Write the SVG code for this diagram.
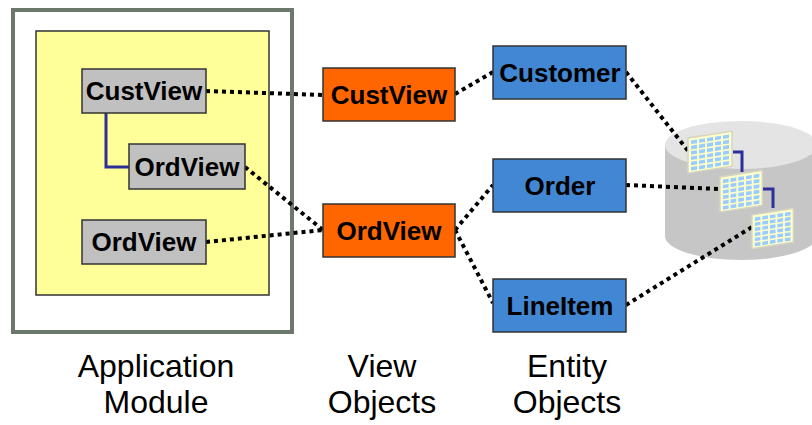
<svg xmlns="http://www.w3.org/2000/svg" width="812" height="425" viewBox="0 0 812 425">
<style>
.box{stroke:#333;stroke-width:1.5}
.gray{fill:#C0C0C0}
.orange{fill:#FF6600}
.blue{fill:#4287D4}
.lbl{font-family:"Liberation Sans",Arial,sans-serif;font-weight:bold;font-size:26px;fill:#000;text-anchor:middle}
.cap{font-family:"Liberation Sans",Arial,sans-serif;font-size:32px;fill:#000;text-anchor:middle}
.dot{fill:none;stroke:#000;stroke-width:4;stroke-dasharray:4 4}
.link{fill:none;stroke:#2E2E99;stroke-width:3}
.cell{fill:#99CCFF}
</style>
<defs>
<g id="tbl">
<rect x="0" y="0" width="44" height="35" fill="#FFFFCC" stroke="#D6D6C2" stroke-width="1.5"/>
<g class="cell">
<rect x="3" y="3" width="6" height="3.6"/><rect x="11" y="3" width="6" height="3.6"/><rect x="19" y="3" width="6" height="3.6"/><rect x="27" y="3" width="6" height="3.6"/><rect x="35" y="3" width="6" height="3.6"/>
<rect x="3" y="8.3" width="6" height="3.6"/><rect x="11" y="8.3" width="6" height="3.6"/><rect x="19" y="8.3" width="6" height="3.6"/><rect x="27" y="8.3" width="6" height="3.6"/><rect x="35" y="8.3" width="6" height="3.6"/>
<rect x="3" y="13.6" width="6" height="3.6"/><rect x="11" y="13.6" width="6" height="3.6"/><rect x="19" y="13.6" width="6" height="3.6"/><rect x="27" y="13.6" width="6" height="3.6"/><rect x="35" y="13.6" width="6" height="3.6"/>
<rect x="3" y="18.9" width="6" height="3.6"/><rect x="11" y="18.9" width="6" height="3.6"/><rect x="19" y="18.9" width="6" height="3.6"/><rect x="27" y="18.9" width="6" height="3.6"/><rect x="35" y="18.9" width="6" height="3.6"/>
<rect x="3" y="24.2" width="6" height="3.6"/><rect x="11" y="24.2" width="6" height="3.6"/><rect x="19" y="24.2" width="6" height="3.6"/><rect x="27" y="24.2" width="6" height="3.6"/><rect x="35" y="24.2" width="6" height="3.6"/>
<rect x="3" y="29.5" width="6" height="3.6"/><rect x="11" y="29.5" width="6" height="3.6"/><rect x="19" y="29.5" width="6" height="3.6"/><rect x="27" y="29.5" width="6" height="3.6"/><rect x="35" y="29.5" width="6" height="3.6"/>
</g>
</g>
</defs>

<g id="appmodule">
<rect x="13" y="10" width="279" height="322" fill="#FFFFFF" stroke="#6B786B" stroke-width="4"/>
<rect x="36" y="31" width="233" height="264" fill="#FFFF99" stroke="#333" stroke-width="1.5"/>
</g>

<g id="database">
<path d="M665,145 L665,236 A76,24 0 0 0 817,236 L817,145 Z" fill="#C6C6C6"/>
<ellipse cx="741" cy="145" rx="76" ry="24" fill="#E4E4E4"/>
</g>

<g id="connectors">
<path class="link" d="M106,113 V167 H129"/>
<path class="link" d="M733,152 H742 V172"/>
<path class="link" d="M762,189 H773 V208"/>
<line class="dot" x1="206" y1="91" x2="323" y2="95"/>
<line class="dot" x1="245" y1="167" x2="323" y2="230"/>
<line class="dot" x1="206" y1="242" x2="323" y2="230"/>
<line class="dot" x1="455" y1="94" x2="493" y2="72"/>
<line class="dot" x1="455" y1="230" x2="493" y2="185"/>
<line class="dot" x1="455" y1="230" x2="493" y2="303"/>
<line class="dot" x1="626" y1="72" x2="689" y2="152"/>
<line class="dot" x1="626" y1="185" x2="719" y2="189"/>
<line class="dot" x1="626" y1="305" x2="752" y2="227"/>
</g>

<g id="tables">
<use href="#tbl" transform="translate(688,138) skewY(-9)"/>
<use href="#tbl" transform="translate(720,177) skewY(-9) scale(0.96,1)"/>
<use href="#tbl" transform="translate(752,215) skewY(-9) scale(0.94,0.96)"/>
</g>

<g id="custview-am">
<rect class="box gray" x="82" y="69" width="124" height="44"/>
<text class="lbl" x="144" y="100">CustView</text>
</g>
<g id="ordview-am1">
<rect class="box gray" x="129" y="144" width="116" height="45"/>
<text class="lbl" x="187" y="176">OrdView</text>
</g>
<g id="ordview-am2">
<rect class="box gray" x="82" y="220" width="124" height="44"/>
<text class="lbl" x="144" y="251">OrdView</text>
</g>

<g id="custview-vo">
<rect class="box orange" x="323" y="68" width="132" height="53"/>
<text class="lbl" x="389" y="104">CustView</text>
</g>
<g id="ordview-vo">
<rect class="box orange" x="323" y="204" width="132" height="53"/>
<text class="lbl" x="389" y="240">OrdView</text>
</g>

<g id="customer">
<rect class="box blue" x="493" y="46" width="133" height="53"/>
<text class="lbl" x="560" y="82">Customer</text>
</g>
<g id="order">
<rect class="box blue" x="493" y="159" width="133" height="53"/>
<text class="lbl" x="560" y="195">Order</text>
</g>
<g id="lineitem">
<rect class="box blue" x="493" y="279" width="133" height="53"/>
<text class="lbl" x="560" y="315">LineItem</text>
</g>

<g id="captions">
<text class="cap" x="156" y="377">Application</text>
<text class="cap" x="156" y="413">Module</text>
<text class="cap" x="382" y="377">View</text>
<text class="cap" x="382" y="413">Objects</text>
<text class="cap" x="567" y="377">Entity</text>
<text class="cap" x="567" y="413">Objects</text>
</g>
</svg>
